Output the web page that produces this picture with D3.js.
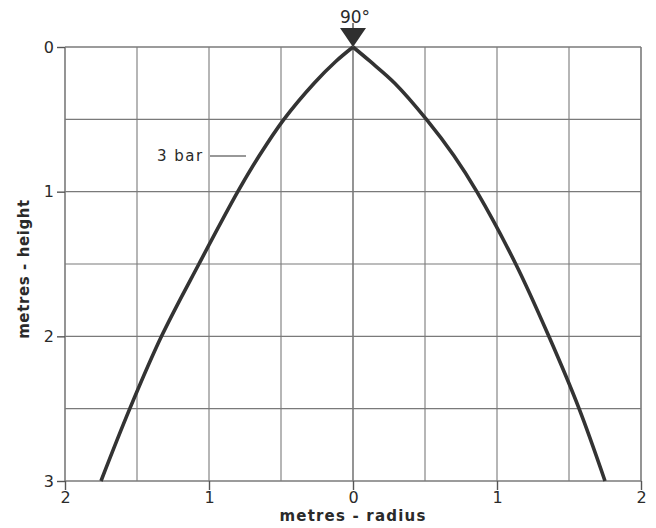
<!DOCTYPE html>
<html><head><meta charset="utf-8">
<script src="https://cdn.jsdelivr.net/npm/d3@7"></script>
<style>body{margin:0;background:#fff}svg{display:block}text{font-family:"DejaVu Sans",sans-serif;fill:#2a2a2a}</style>
</head><body><svg id="c" width="656" height="528"></svg>
<script>
const heights = [0, 0.1, 0.25, 0.5, 0.75, 1, 1.5, 2, 2.5, 3];
const leftRadius = [0, 0.12, 0.27, 0.48, 0.65, 0.80, 1.07, 1.33, 1.55, 1.75];
const rightRadius = [0, 0.12, 0.29, 0.51, 0.70, 0.86, 1.13, 1.36, 1.57, 1.75];
const xTicks = [-2, -1, 0, 1, 2];
const xTickLabels = ["2", "1", "0", "1", "2"];
const yTicks = [0, 1, 2, 3];
const gridX = [-2, -1.5, -1, -0.5, 0, 0.5, 1, 1.5, 2];
const gridY = [0, 0.5, 1, 1.5, 2, 2.5, 3];

const svg = d3.select("#c");
const L = 65, R = 641, T = 47, B = 481;
const x = d3.scaleLinear().domain([-2, 2]).range([L, R]);
const y = d3.scaleLinear().domain([0, 3]).range([T, B]);

// grid
svg.append("g").selectAll("line").data(gridX).join("line")
  .attr("x1", d => x(d)).attr("x2", d => x(d)).attr("y1", T).attr("y2", B)
  .attr("stroke", "#7a7a7a").attr("stroke-width", d => (Math.abs(d) === 2 || d === 0) ? 1.6 : 1.1);
svg.append("g").selectAll("line").data(gridY).join("line")
  .attr("y1", d => y(d)).attr("y2", d => y(d)).attr("x1", L).attr("x2", R)
  .attr("stroke", "#7a7a7a").attr("stroke-width", d => (d === 0 || d === 3) ? 1.6 : 1.1);

// axes
const yAxis = d3.axisLeft(y).tickValues(yTicks).tickSize(8).tickPadding(3).tickFormat(d3.format("d"));
const gy = svg.append("g").attr("transform", `translate(${L},0)`).call(yAxis);
const xAxis = d3.axisBottom(x).tickValues(xTicks).tickSize(9).tickPadding(2).tickFormat((d, i) => xTickLabels[i]);
const gx = svg.append("g").attr("transform", `translate(0,${B})`).call(xAxis);
[gx, gy].forEach(g => {
  g.select(".domain").remove();
  g.selectAll(".tick line").attr("stroke", "#555").attr("stroke-width", 1.4);
  g.selectAll(".tick text").attr("font-size", 16).attr("font-family", "DejaVu Sans").attr("fill", "#2a2a2a");
});

// curve: two branches from the apex
const line = d3.line().curve(d3.curveCatmullRom.alpha(0.5));
const leftPts = heights.map((h, i) => [x(-leftRadius[i]), y(h)]);
const rightPts = heights.map((h, i) => [x(rightRadius[i]), y(h)]);
[leftPts, rightPts].forEach(p => {
  svg.append("path").attr("d", line(p)).attr("fill", "none")
    .attr("stroke", "#333").attr("stroke-width", 3.6).attr("stroke-linejoin", "round").attr("stroke-linecap", "butt");
});

// apex marker
const ax = x(0), ay = y(0);
svg.append("path").attr("d", `M${ax - 13},${ay - 19}L${ax + 13},${ay - 19}L${ax},${ay}Z`).attr("fill", "#2f2f2f");
svg.append("line").attr("x1", ax).attr("x2", ax).attr("y1", ay - 24).attr("y2", ay - 19).attr("stroke", "#333").attr("stroke-width", 1.2);
svg.append("text").attr("x", ax + 2).attr("y", 23).attr("text-anchor", "middle").attr("font-size", 17).text("90°");

// annotation
svg.append("text").attr("x", 157).attr("y", 161).attr("font-size", 15).attr("letter-spacing", 1.5).text("3 bar");
svg.append("line").attr("x1", 210).attr("x2", 246).attr("y1", 156).attr("y2", 156).attr("stroke", "#333").attr("stroke-width", 1.2);

// axis titles
svg.append("text").attr("x", x(0)).attr("y", 521).attr("text-anchor", "middle").attr("font-size", 15).attr("font-weight", "bold").attr("letter-spacing", 1.2).text("metres - radius");
svg.append("text").attr("transform", `translate(29,${y(1.5) + 5}) rotate(-90)`).attr("text-anchor", "middle").attr("font-size", 15).attr("font-weight", "bold").attr("letter-spacing", 0.6).text("metres - height");
</script></body></html>
